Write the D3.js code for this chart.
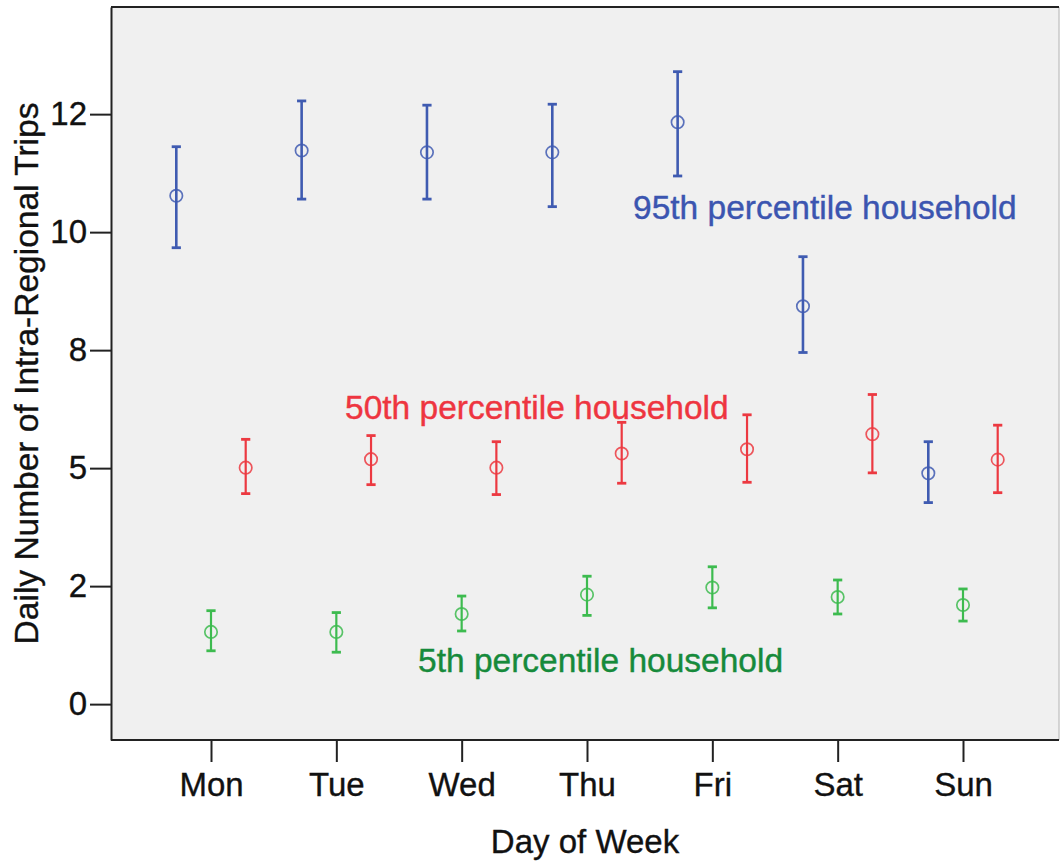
<!DOCTYPE html>
<html>
<head>
<meta charset="utf-8">
<script src="https://cdn.jsdelivr.net/npm/d3@7"></script>
<style>
  body { margin: 0; background: #ffffff; }
  svg { display: block; font-family: "Liberation Sans", Arial, sans-serif; }
</style>
</head>
<body>
<svg id="chart" width="1060" height="862"></svg>
<script>
// Days on the x axis
const days = ["Mon", "Tue", "Wed", "Thu", "Fri", "Sat", "Sun"];

// 95th percentile household: mean and 95% confidence interval
const p95Mean = [10.77, 11.73, 11.69, 11.69, 12.33, 8.43, 4.89];
const p95Low  = [9.67, 10.70, 10.70, 10.54, 11.19, 7.45, 4.27];
const p95High = [11.81, 12.78, 12.69, 12.71, 13.40, 9.48, 5.56];

// 50th percentile household
const p50Mean = [5.01, 5.19, 5.01, 5.31, 5.40, 5.72, 5.18];
const p50Low  = [4.46, 4.65, 4.44, 4.68, 4.70, 4.90, 4.48];
const p50High = [5.61, 5.69, 5.56, 5.97, 6.13, 6.56, 5.91];

// 5th percentile household
const p5Mean = [1.53, 1.53, 1.91, 2.32, 2.47, 2.27, 2.10];
const p5Low  = [1.13, 1.10, 1.55, 1.88, 2.04, 1.91, 1.76];
const p5High = [1.98, 1.94, 2.29, 2.71, 2.91, 2.63, 2.44];

// Y axis ticks and their printed labels
const yTickValues = [0, 2.5, 5, 7.5, 10, 12.5];
const yTickLabels = ["0", "2", "5", "8", "10", "12"];
const yLimits = [-0.76, 14.77];

const seriesNames = ["95th", "5th", "50th"];   // left-to-right order within a day
const seriesLabels = ["95th percentile household", "5th percentile household", "50th percentile household"];

const series = [
  { key: "95th", mean: p95Mean, low: p95Low, high: p95High, color: "#3f5bb1", width: 2.6, text: "#3b55b0" },
  { key: "50th", mean: p50Mean, low: p50Low, high: p50High, color: "#ec3941", width: 2.2, text: "#ee3540" },
  { key: "5th",  mean: p5Mean,  low: p5Low,  high: p5High,  color: "#3dbb4f", width: 2.2, text: "#168a3b" }
];

// Layout
const frame = { left: 111, right: 1059, top: 7, bottom: 740 };
const svg = d3.select("#chart");

const x = d3.scalePoint().domain(days).range([211, 963]);
const dodge = d3.scalePoint().domain(seriesNames).range([-34.7, 34.7]);
const y = d3.scaleLinear().domain(yLimits).range([frame.bottom, frame.top]);

// Plot background
svg.append("rect")
  .attr("x", frame.left).attr("y", frame.top)
  .attr("width", frame.right - frame.left)
  .attr("height", frame.bottom - frame.top)
  .attr("fill", "#f0f0f0");

// Frame: right side in light gray, others dark
svg.append("line")
  .attr("x1", frame.right).attr("x2", frame.right)
  .attr("y1", frame.top).attr("y2", frame.bottom)
  .attr("stroke", "#c8c8c8").attr("stroke-width", 1.5);
svg.append("line")
  .attr("x1", frame.left).attr("x2", frame.right)
  .attr("y1", frame.top).attr("y2", frame.top)
  .attr("stroke", "#222").attr("stroke-width", 2);

// Y axis
const yAxis = d3.axisLeft(y)
  .tickValues(yTickValues)
  .tickFormat((d, i) => yTickLabels[i])
  .tickSize(21)
  .tickPadding(3)
  .tickSizeOuter(0);
const gy = svg.append("g")
  .attr("transform", `translate(${frame.left},0)`)
  .call(yAxis);
gy.select(".domain").attr("stroke", "#222").attr("stroke-width", 2);
gy.selectAll(".tick line").attr("stroke", "#222").attr("stroke-width", 2);
gy.selectAll(".tick text")
  .attr("font-size", 33).attr("fill", "#111")
  .attr("stroke", "#111").attr("stroke-width", 0.35)
  .attr("font-family", "'Liberation Sans', Arial, sans-serif");

// X axis
const xAxis = d3.axisBottom(x).tickSize(22).tickPadding(11).tickSizeOuter(0);
const gx = svg.append("g")
  .attr("transform", `translate(0,${frame.bottom})`)
  .call(xAxis);
gx.select(".domain")
  .attr("d", `M${frame.left},0H${frame.right}`)
  .attr("stroke", "#222").attr("stroke-width", 2);
gx.selectAll(".tick line").attr("stroke", "#222").attr("stroke-width", 2);
gx.selectAll(".tick text")
  .attr("font-size", 33).attr("fill", "#111")
  .attr("stroke", "#111").attr("stroke-width", 0.35)
  .attr("font-family", "'Liberation Sans', Arial, sans-serif");

// Axis titles
svg.append("text")
  .attr("x", (frame.left + frame.right) / 2)
  .attr("y", 853)
  .attr("text-anchor", "middle")
  .attr("font-size", 33).attr("fill", "#111")
  .attr("stroke", "#111").attr("stroke-width", 0.35)
  .text("Day of Week");

svg.append("text")
  .attr("transform", `translate(37.5,${(frame.top + frame.bottom) / 2}) rotate(-90)`)
  .attr("text-anchor", "middle")
  .attr("font-size", 33.5).attr("fill", "#111")
  .attr("stroke", "#111").attr("stroke-width", 0.35)
  .text("Daily Number of Intra-Regional Trips");

// Error bars with mean markers
const capHalf = 4.6;
series.forEach(s => {
  const rows = days.map((d, i) => ({ day: d, mean: s.mean[i], low: s.low[i], high: s.high[i] }));
  const g = svg.append("g").attr("class", "series-" + s.key);
  const cx = d => x(d.day) + dodge(s.key);

  g.selectAll("line.stem").data(rows).join("line")
    .attr("class", "stem")
    .attr("x1", cx).attr("x2", cx)
    .attr("y1", d => y(d.low)).attr("y2", d => y(d.high))
    .attr("stroke", s.color).attr("stroke-width", s.width);

  g.selectAll("line.capHi").data(rows).join("line")
    .attr("class", "capHi")
    .attr("x1", d => cx(d) - capHalf).attr("x2", d => cx(d) + capHalf)
    .attr("y1", d => y(d.high)).attr("y2", d => y(d.high))
    .attr("stroke", s.color).attr("stroke-width", 2.8);

  g.selectAll("line.capLo").data(rows).join("line")
    .attr("class", "capLo")
    .attr("x1", d => cx(d) - capHalf).attr("x2", d => cx(d) + capHalf)
    .attr("y1", d => y(d.low)).attr("y2", d => y(d.low))
    .attr("stroke", s.color).attr("stroke-width", 2.8);

  g.selectAll("circle").data(rows).join("circle")
    .attr("cx", cx).attr("cy", d => y(d.mean))
    .attr("r", 6.2)
    .attr("fill", "none")
    .attr("stroke", s.color).attr("stroke-width", 1.7)
    .attr("stroke-opacity", 0.85);
});

// Series annotations
const annotations = [
  { key: "95th", x: 633, y: 219 },
  { key: "50th", x: 345, y: 419 },
  { key: "5th",  x: 418, y: 672 }
];
annotations.forEach(a => {
  const s = series.find(t => t.key === a.key);
  svg.append("text")
    .attr("x", a.x).attr("y", a.y)
    .attr("font-size", 33.5)
    .attr("fill", s.text)
    .attr("stroke", s.text).attr("stroke-width", 0.4)
    .text(seriesLabels[seriesNames.indexOf(a.key)]);
});
</script>
</body>
</html>
